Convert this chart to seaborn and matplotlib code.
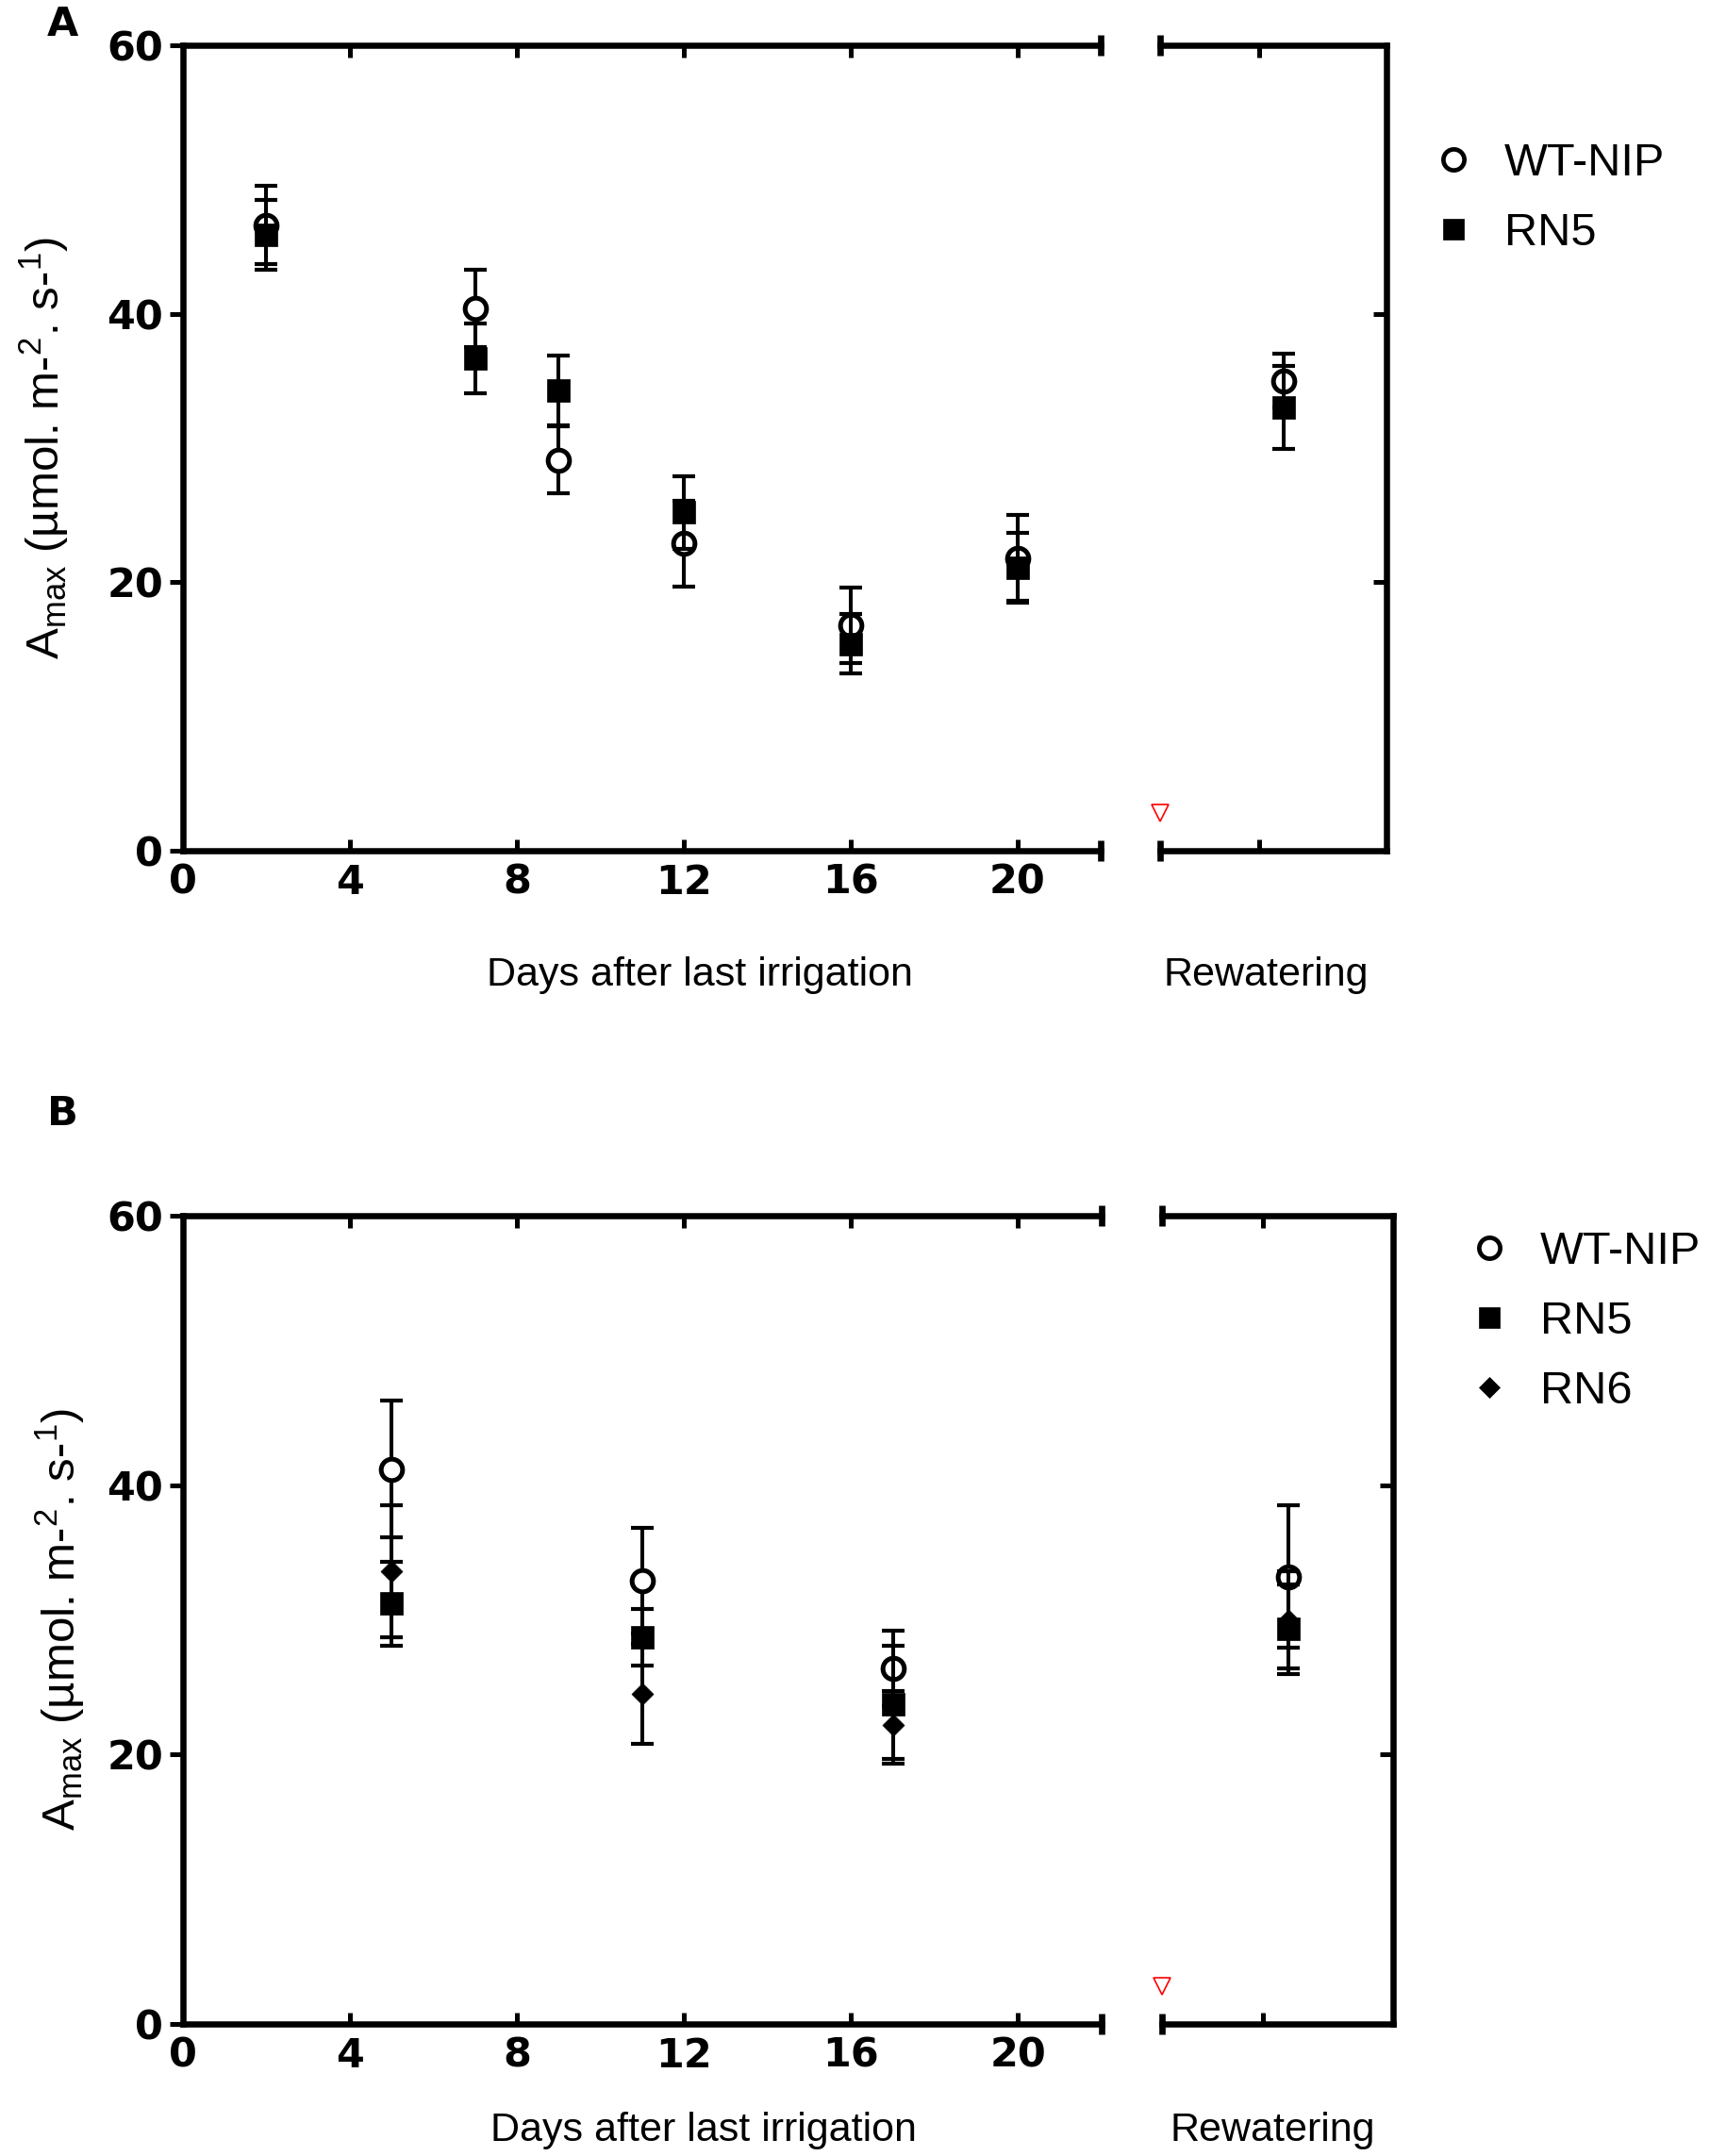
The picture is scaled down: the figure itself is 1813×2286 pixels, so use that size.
import pandas as pd
import matplotlib
matplotlib.use('Agg')
import matplotlib.pyplot as plt
from matplotlib.lines import Line2D
import seaborn as sns

# ---- values (mean and SD) ----
# Panel A
genos_a = ['WT-NIP', 'RN5']
days_a = [2, 7, 9, 12, 16, 20]
wt_a = [46.6, 40.4, 29.1, 22.9, 16.8, 21.8]
wt_a_sd = [2.9, 2.9, 2.5, 3.2, 2.8, 3.2]
rn5_a = [45.9, 36.7, 34.3, 25.2, 15.4, 21.1]
rn5_a_sd = [2.6, 2.6, 2.6, 2.7, 2.2, 2.6]
rewater_a = [35.0, 33.0]          # WT-NIP, RN5
rewater_a_sd = [2.0, 3.1]

# Panel B
genos_b = ['WT-NIP', 'RN5', 'RN6']
days_b = [5, 11, 17]
wt_b = [41.2, 32.9, 26.4]
wt_b_sd = [5.1, 3.9, 2.8]
rn5_b = [31.2, 28.7, 23.7]
rn5_b_sd = [3.1, 2.1, 4.4]
rn6_b = [33.6, 24.5, 22.2]
rn6_b_sd = [4.9, 3.7, 2.5]
rewater_b = [33.2, 29.3, 30.0]    # WT-NIP, RN5, RN6
rewater_b_sd = [5.3, 3.3, 3.6]

x_ticks = [0, 4, 8, 12, 16, 20]
y_ticks = [0, 20, 40, 60]
REWATER_X = 1


def make_frame(genos, days, means, sds, rw, rw_sd):
    rows = []
    for g, m, s, rm, rs in zip(genos, means, sds, rw, rw_sd):
        for d, v, e in zip(days, m, s):
            rows.append(dict(geno=g, part='drought', x=d, amax=v, sd=e))
        rows.append(dict(geno=g, part='rewater', x=REWATER_X, amax=rm, sd=rs))
    return pd.DataFrame(rows)


df_a = make_frame(genos_a, days_a, [wt_a, rn5_a], [wt_a_sd, rn5_a_sd], rewater_a, rewater_a_sd)
df_b = make_frame(genos_b, days_b, [wt_b, rn5_b, rn6_b], [wt_b_sd, rn5_b_sd, rn6_b_sd],
                  rewater_b, rewater_b_sd)

# ---- style ----
sns.set_style('ticks', rc={'axes.edgecolor': 'black', 'xtick.color': 'black',
                           'ytick.color': 'black', 'text.color': 'black',
                           'axes.labelcolor': 'black'})
plt.rcParams['font.family'] = ['Liberation Sans', 'DejaVu Sans']
plt.rcParams['mathtext.fontset'] = 'custom'
plt.rcParams['mathtext.rm'] = 'Liberation Sans'
plt.rcParams['mathtext.it'] = 'Liberation Sans:italic'
plt.rcParams['mathtext.bf'] = 'Liberation Sans:bold'

SPINE_LW = 4.7
TICK_W = 3.6
TICK_FONT = dict(family='DejaVu Sans', fontweight='bold', fontsize=31)

marker_kw = {
    'WT-NIP': dict(marker='o', s=266, facecolor='white', edgecolor='black', linewidth=3.6),
    'RN5': dict(marker='s', s=300, facecolor='black', edgecolor='black', linewidth=0.5),
    'RN6': dict(marker='D', s=137, facecolor='black', edgecolor='black', linewidth=0.5),
}
legend_kw = {
    'WT-NIP': dict(marker='o', ms=16, mfc='white', mec='black', mew=3.4),
    'RN5': dict(marker='s', ms=16, mfc='black', mec='black', mew=0.5),
    'RN6': dict(marker='D', ms=11, mfc='black', mec='black', mew=0.5),
}

W, H = 1813, 2286
fig = plt.figure(figsize=(W / 100, H / 100), dpi=100)


def px_axes(x0, x1, y0, y1):
    return fig.add_axes([x0 / W, 1 - y1 / H, (x1 - x0) / W, (y1 - y0) / H])


def draw_points(ax, df, part):
    sub = df[df['part'] == part]
    for i, g in enumerate(sub['geno'].unique()):
        d = sub[sub['geno'] == g]
        ax.errorbar(d['x'], d['amax'], yerr=d['sd'], fmt='none', ecolor='black',
                    elinewidth=2.9, capsize=8.3, capthick=3.0, zorder=3 + 2 * i)
        sns.scatterplot(data=d, x='x', y='amax', ax=ax, legend=False,
                        zorder=4 + 2 * i, **marker_kw[g])


def break_mark(ax, xpos):
    ax.plot([xpos, xpos], [0, 1], transform=ax.transAxes, linestyle='none',
            marker='|', ms=16, mew=4.8, color='black', clip_on=False, zorder=10)


def style_left(ax):
    ax.set_xlim(0, 22)
    ax.set_ylim(0, 60)
    ax.spines['right'].set_visible(False)
    for s in ['left', 'top', 'bottom']:
        ax.spines[s].set_linewidth(SPINE_LW)
        ax.spines[s].set_capstyle('projecting')
    ax.set_xticks(x_ticks, [str(t) for t in x_ticks], **TICK_FONT)
    ax.set_yticks(y_ticks, [str(t) for t in y_ticks], **TICK_FONT)
    ax.tick_params(axis='x', direction='in', top=True, bottom=True, length=9,
                   width=TICK_W, pad=9)
    ax.tick_params(axis='y', direction='out', left=True, right=False, length=10,
                   width=TICK_W, pad=5)
    ax.set_ylabel('')
    break_mark(ax, 1)


def style_right(ax):
    ax.set_xlim(0.453, 1.453)
    ax.set_ylim(0, 60)
    ax.spines['left'].set_visible(False)
    for s in ['right', 'top', 'bottom']:
        ax.spines[s].set_linewidth(SPINE_LW)
        ax.spines[s].set_capstyle('projecting')
    ax.set_xticks([0.89])
    ax.set_yticks(y_ticks)
    ax.tick_params(axis='x', direction='in', top=True, bottom=True, length=9,
                   width=TICK_W, labelbottom=False)
    ax.tick_params(axis='y', direction='in', left=False, right=True, length=10,
                   width=TICK_W, labelleft=False)
    ax.set_ylabel('')
    break_mark(ax, 0)
    # red marker for the rewatering event
    ax.plot([0], [0.047], transform=ax.transAxes, marker='v', ms=13, mfc='none',
            mec='red', mew=1.2, clip_on=False)


ylab = 'A$_{\\mathrm{max}}$ (µmol. m-$^{2}$. s-$^{1}$)'

panels = [
    dict(df=df_a, genos=genos_a, left=(194, 1167, 48, 902), right=(1230, 1470, 48, 902),
         letter=('A', 26), days_lab=(0.563, -0.155), rw_lab=(0.467, -0.155),
         ylab_x=-0.151, leg=(0.8367, 0.9338)),
    dict(df=df_b, genos=genos_b, left=(194, 1168, 1289, 2146), right=(1232, 1477, 1289, 2146),
         letter=('B', 1181), days_lab=(0.567, -0.132), rw_lab=(0.478, -0.132),
         ylab_x=-0.134, leg=(0.8576, 0.4293)),
]

for p in panels:
    axl = px_axes(*p['left'])
    axr = px_axes(*p['right'])
    draw_points(axl, p['df'], 'drought')
    draw_points(axr, p['df'], 'rewater')
    style_left(axl)
    style_right(axr)

    axl.set_xlabel('Days after last irrigation', fontsize=31, va='center')
    axl.xaxis.set_label_coords(*p['days_lab'])
    axr.set_xlabel('Rewatering', fontsize=31, va='center')
    axr.xaxis.set_label_coords(*p['rw_lab'])
    axl.set_ylabel(ylab, fontsize=35.5, va='center')
    axl.yaxis.set_label_coords(p['ylab_x'], 0.5)

    fig.text(66 / W, 1 - p['letter'][1] / H, p['letter'][0], ha='center', va='center',
             fontsize=31, fontweight='bold', family='DejaVu Sans')

    handles = [Line2D([], [], linestyle='none', **legend_kw[g]) for g in p['genos']]
    fig.legend(handles, p['genos'], loc='upper left', bbox_to_anchor=p['leg'],
               frameon=False, fontsize=35, handlelength=1.0, handletextpad=0.61,
               labelspacing=0.6, borderpad=0, borderaxespad=0)

fig.savefig('out.png', dpi=100)
